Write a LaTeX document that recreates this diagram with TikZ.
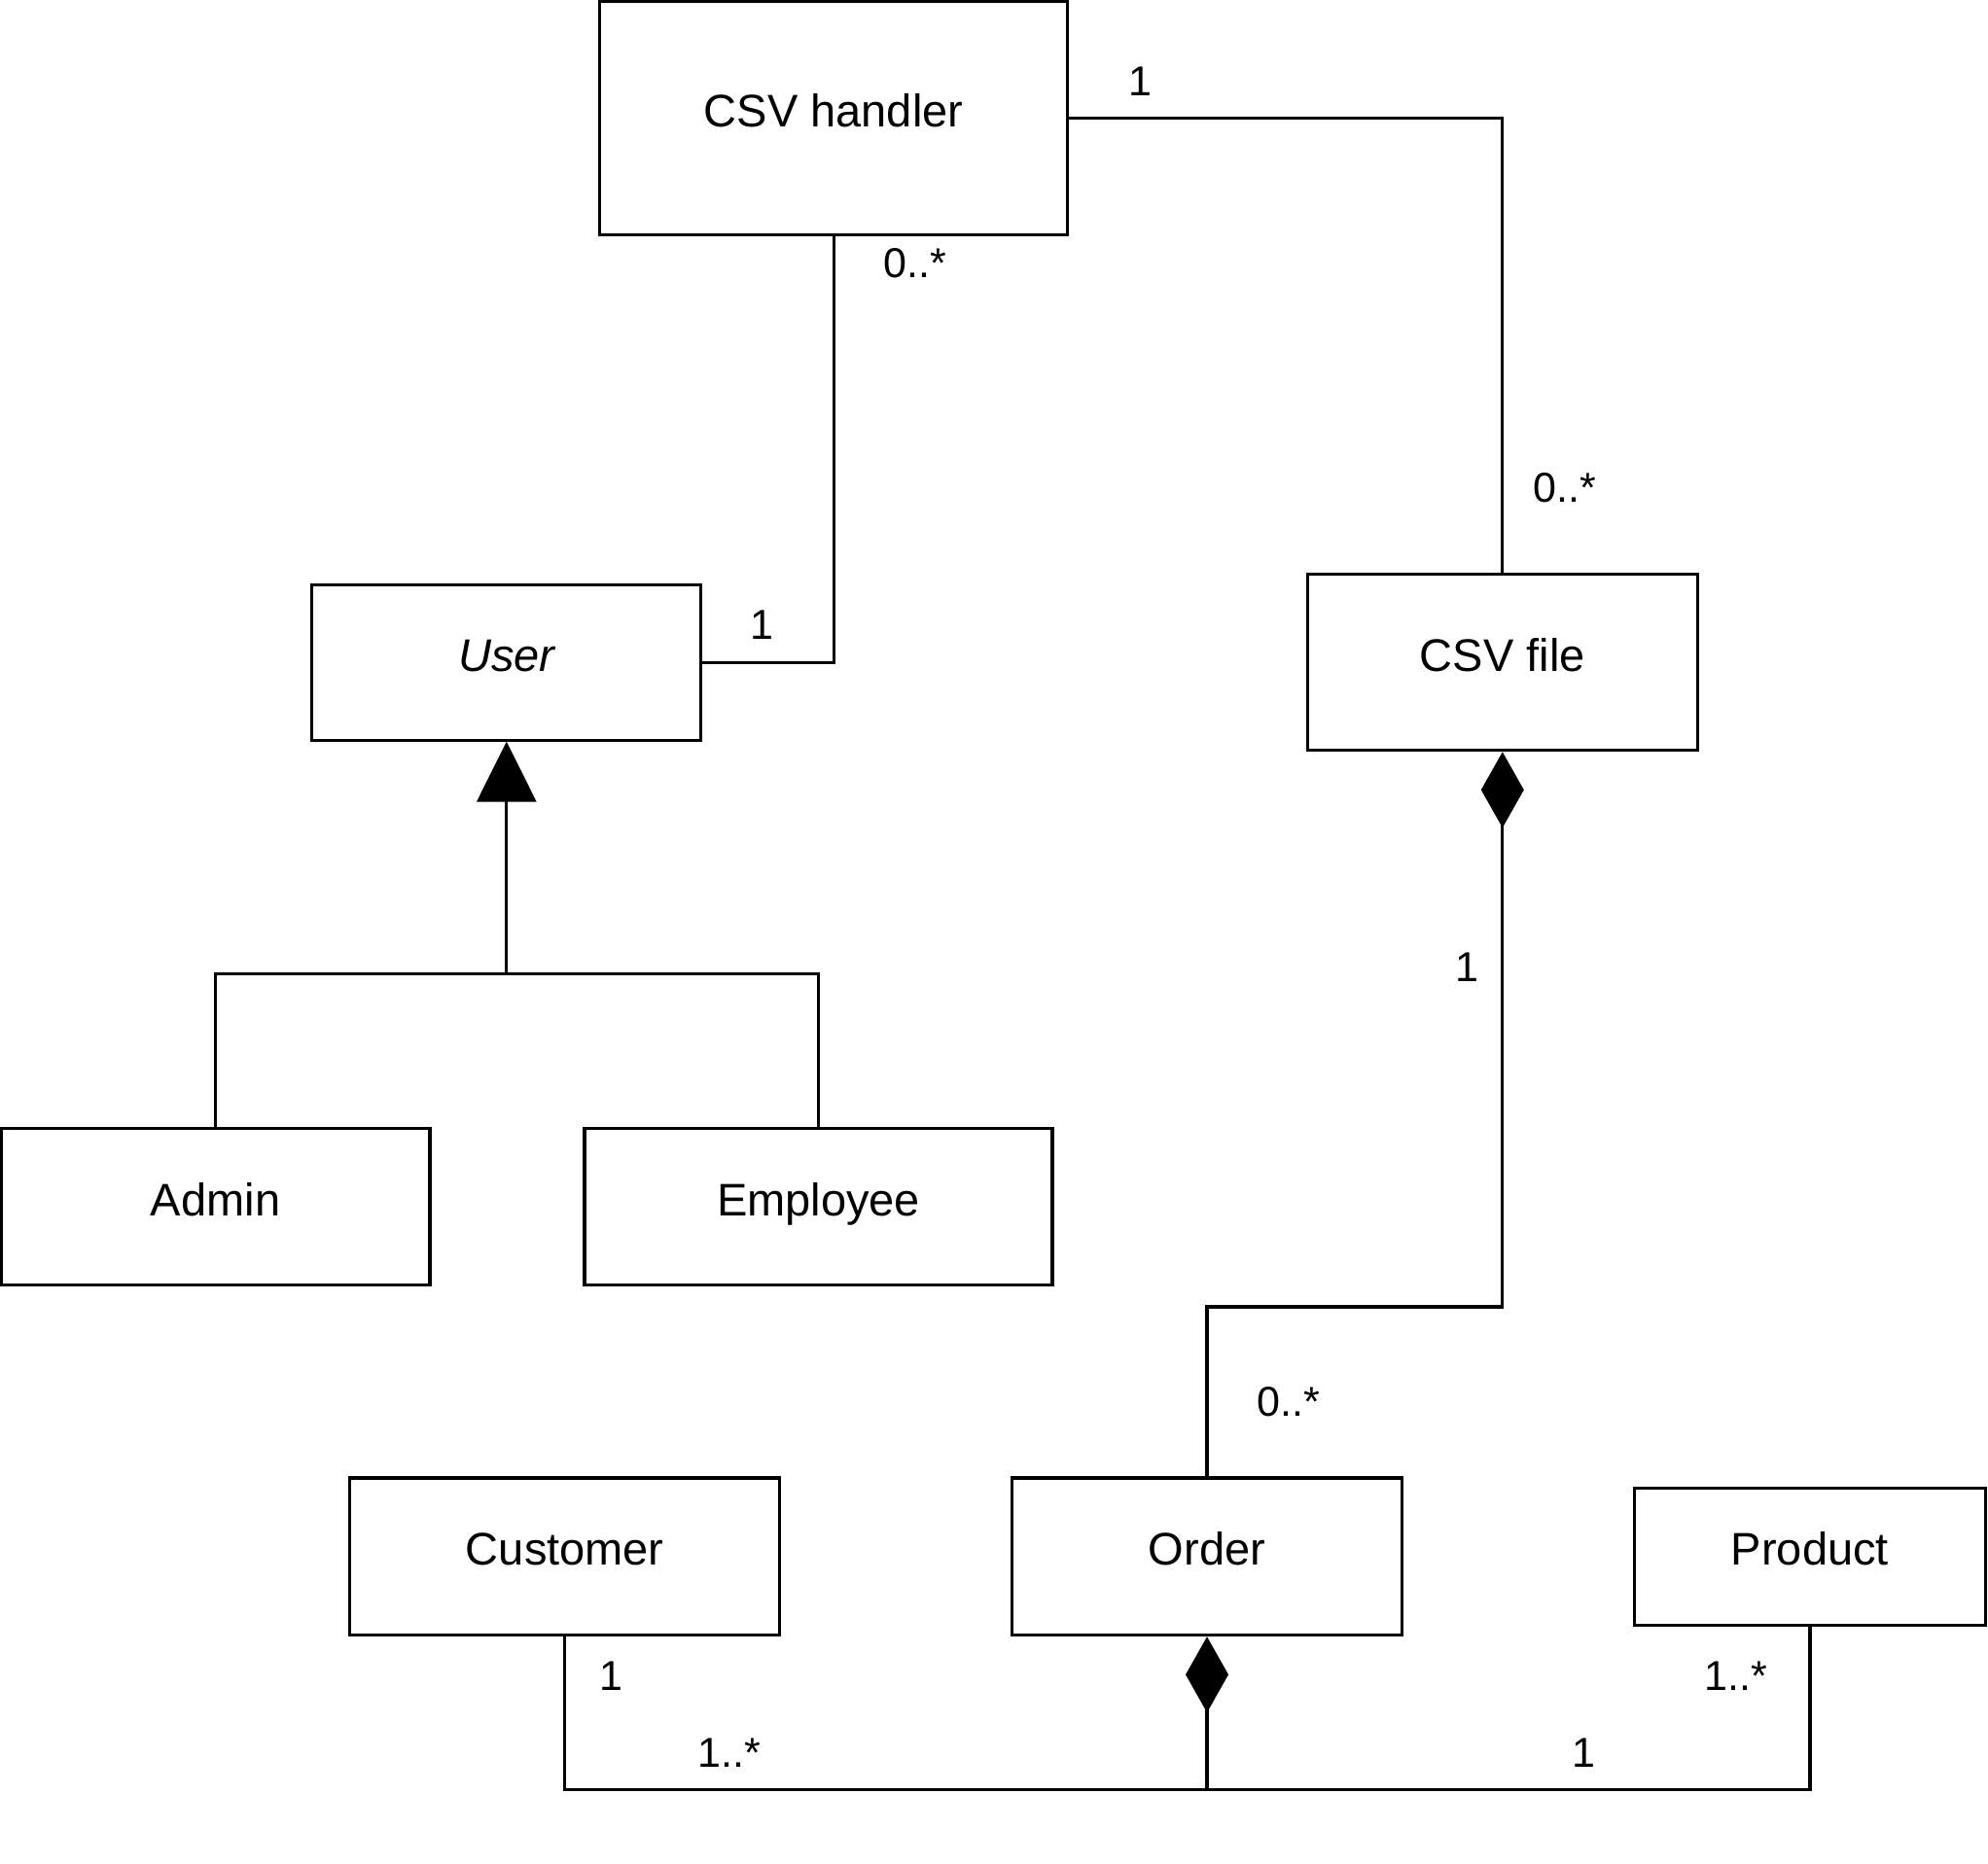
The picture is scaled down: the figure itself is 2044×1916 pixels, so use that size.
\documentclass[tikz,border=0pt]{standalone}
\usepackage{fontspec}
\setmainfont{Liberation Sans}
\usetikzlibrary{arrows.meta,positioning}

\begin{document}
\begin{tikzpicture}[x=0.5pt,y=-0.5pt]
  \tikzset{cls/.style = {draw, line width=1.6pt, inner sep=0pt, text height=1em, text depth=0.09em, font=\fontsize{23.5}{27}\selectfont}}
  \tikzset{edge/.style = {line width=1.6pt}}
  \tikzset{mult/.style = {inner sep=0pt, text height=0.72em, text depth=0pt, yshift=-3.7pt, font=\fontsize{21.5}{25}\selectfont}}
  \useasboundingbox (0,0) rectangle (2044,1916);

  % classes
  \node[cls, minimum width=240.5pt, minimum height=120pt] (handler) at (857.1,121.2) {CSV handler};
  \node[cls, minimum width=200pt, minimum height=80pt] (user) at (520.8,681.1) {\itshape User};
  \node[cls, minimum width=200.7pt, minimum height=90.6pt] (csvfile) at (1544.8,681.1) {CSV file};
  \node[cls, minimum width=220.3pt, minimum height=80.8pt] (admin) at (221.6,1241) {Admin};
  \node[cls, minimum width=240.5pt, minimum height=80.8pt] (employee) at (841.5,1241) {Employee};
  \node[cls, minimum width=221pt, minimum height=80.8pt] (customer) at (580.8,1600.8) {Customer};
  \node[cls, minimum width=200.7pt, minimum height=80.8pt] (order) at (1241,1600.8) {Order};
  \node[cls, minimum width=180.5pt, minimum height=70.4pt] (product) at (1860.9,1600.8) {Product};

  % bends
  \coordinate (split) at (520.8,1001.2);
  \coordinate (ordbend) at (1544.8,1344);
  \coordinate (bus) at (1241,1840.7);
  \coordinate (busend) at (1262,1840.7);

  % edges
  \draw[edge] (handler.south) |- (user.east);
  \draw[edge] (handler.east) -| (csvfile.north);
  \draw[edge, -{Triangle[length=31pt,width=30.5pt]}] (split) -- (user.south);
  \draw[edge] (admin.north) |- (split) -| (employee.north);
  \draw[edge, {Diamond[length=39pt,width=22pt]}-] (csvfile.south) -- (ordbend) -| (order.north);
  \draw[edge, {Diamond[length=39pt,width=22pt]}-] (order.south) -- (bus);
  \draw[edge] (customer.south) |- (busend);
  \draw[edge] (product.south) |- (bus);

  % multiplicities
  \node[mult] (hu) at (941.2,271.2) {0..*};
  \node[mult] (uh) at (783.5,642.7) {1};
  \node[mult] (hf) at (1172,83.4) {1};
  \node[mult] (fh) at (1608.6,501.9) {0..*};
  \node[mult] (fo) at (1508.3,994.6) {1};
  \node[mult] (of) at (1324.5,1441.8) {0..*};
  \node[mult] (co) at (628.3,1723.4) {1};
  \node[mult] (oc) at (749.6,1802.9) {1..*};
  \node[mult] (po) at (1784.6,1723.4) {1..*};
  \node[mult] (op) at (1628.2,1802.9) {1};
\end{tikzpicture}
\end{document}
